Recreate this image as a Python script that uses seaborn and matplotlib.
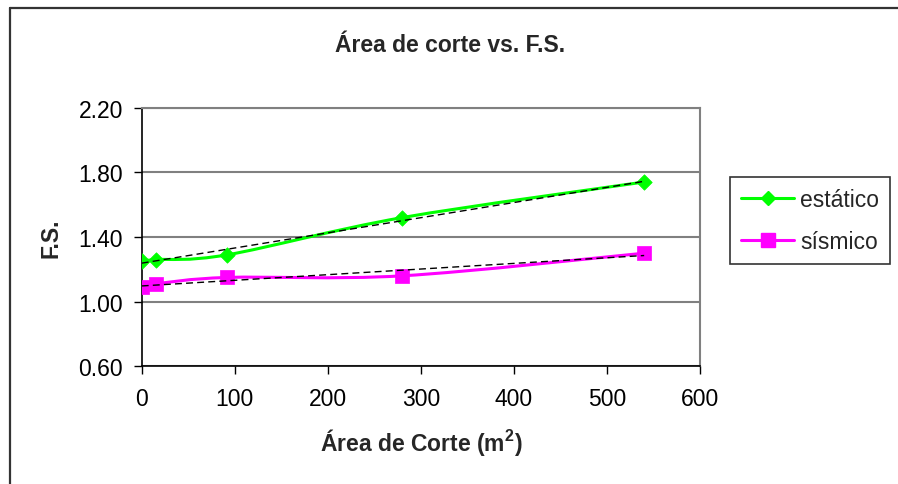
import numpy as np
import matplotlib
matplotlib.use("Agg")
import matplotlib.pyplot as plt
import seaborn as sns
from matplotlib.path import Path
from matplotlib.patches import PathPatch
from matplotlib.lines import Line2D

# ---- data ----
area = [0, 15, 92, 280, 540]
estatico = [1.25, 1.26, 1.29, 1.52, 1.74]
sismico = [1.09, 1.11, 1.15, 1.16, 1.30]
series_names = ["estático", "sísmico"]
y_ticks = [0.60, 1.00, 1.40, 1.80, 2.20]
x_ticks = [0, 100, 200, 300, 400, 500, 600]
title = "Área de corte vs. F.S."
xlabel = "Área de Corte (m$^{\\mathbf{2}}$)"
ylabel = "F.S."

sns.set_style("white")
plt.rcParams["font.family"] = ["Liberation Sans", "DejaVu Sans"]
plt.rcParams["mathtext.fontset"] = "custom"
plt.rcParams["mathtext.rm"] = "Liberation Sans"
plt.rcParams["mathtext.bf"] = "Liberation Sans:bold"

FS = 16.5
W, H = 898, 485
fig = plt.figure(figsize=(W / 100, H / 100), dpi=100)
fig.patch.set_facecolor("white")

left, right, top, bottom = 141.7, 700.0, 108.6, 367.4
ax = fig.add_axes([left / W, 1 - bottom / H, (right - left) / W, (bottom - top) / H])


def smooth_path(xs, ys):
    P = np.column_stack([xs, ys]).astype(float)
    n = len(P)
    verts = [P[0]]
    codes = [Path.MOVETO]
    for i in range(n - 1):
        p0 = P[i - 1] if i > 0 else P[i]
        p1 = P[i]
        p2 = P[i + 1]
        p3 = P[i + 2] if i + 2 < n else P[i + 1]
        c1 = p1 + (p2 - p0) / 6.0
        c2 = p2 - (p3 - p1) / 6.0
        verts += [c1, c2, p2]
        codes += [Path.CURVE4] * 3
    return Path(np.array(verts), codes)


green = "#00FF00"
magenta = "#FF00FF"

for ys, col in [(estatico, green), (sismico, magenta)]:
    patch = PathPatch(smooth_path(area, ys), facecolor="none", edgecolor=col,
                      lw=2.2, zorder=3, transform=ax.transData)
    ax.add_patch(patch)

sns.scatterplot(x=area, y=estatico, marker="D", s=62, color=green,
                edgecolor=green, linewidth=0.5, zorder=4, ax=ax)
sns.scatterplot(x=area, y=sismico, marker="s", s=92, color=magenta,
                edgecolor=magenta, linewidth=0.5, zorder=4, ax=ax)

for ys in (estatico, sismico):
    sns.regplot(x=area, y=ys, ci=None, scatter=False, truncate=True, ax=ax,
                line_kws=dict(color="black", lw=1.0, ls=(0, (5, 3)), zorder=5))

ax.set_xlim(0, 600)
ax.set_ylim(0.60, 2.20)
ax.set_xticks(x_ticks)
ax.set_yticks(y_ticks)
ax.set_yticklabels([f"{v:.2f}" for v in y_ticks])
ax.set_xticklabels([str(v) for v in x_ticks])
ax.tick_params(axis="both", labelsize=FS, direction="out", length=5.5, width=1,
               color="black", labelcolor="black")
ax.tick_params(axis="y", pad=8, left=True)
ax.tick_params(axis="x", pad=9, bottom=True)
ax.yaxis.grid(True, color="#808080", lw=1.5)
ax.xaxis.grid(False)
ax.set_axisbelow(True)
for s in ("left", "bottom"):
    ax.spines[s].set_color("black")
    ax.spines[s].set_linewidth(1.2)
for s in ("top", "right"):
    ax.spines[s].set_color("#808080")
    ax.spines[s].set_linewidth(1.5)
ax.set_xlabel("")
ax.set_ylabel("")

fig.text(450 / W, 1 - 45 / H, title, ha="center", va="center",
         fontsize=FS, fontweight="bold")
fig.text(421 / W, 1 - 443 / H, xlabel, ha="center", va="center",
         fontsize=FS, fontweight="bold")
fig.text(51 / W, 1 - 238 / H, ylabel, ha="center", va="center",
         fontsize=FS, fontweight="bold", rotation=90)

handles = [
    Line2D([], [], color=green, lw=2.2, marker="D", ms=7.5, mec=green),
    Line2D([], [], color=magenta, lw=2.2, marker="s", ms=9.5, mec=magenta),
]
leg = ax.legend(handles, series_names, loc="upper left",
                bbox_to_anchor=(730 / W, 1 - 177.5 / H), bbox_transform=fig.transFigure,
                fontsize=FS, frameon=True, fancybox=False, edgecolor="black",
                handlelength=2.3, handletextpad=0.25, labelspacing=0.82,
                borderpad=0.5, borderaxespad=0)
leg.get_frame().set_linewidth(1.2)

# outer chart border (top and left visible)
fig.add_artist(Line2D([9.5 / W, 1], [1 - 8.5 / H, 1 - 8.5 / H],
                      transform=fig.transFigure, color="#333333", lw=1.6))
fig.add_artist(Line2D([9.5 / W, 9.5 / W], [0, 1 - 8.5 / H],
                      transform=fig.transFigure, color="#333333", lw=1.6))

fig.savefig("out.png", dpi=100)
